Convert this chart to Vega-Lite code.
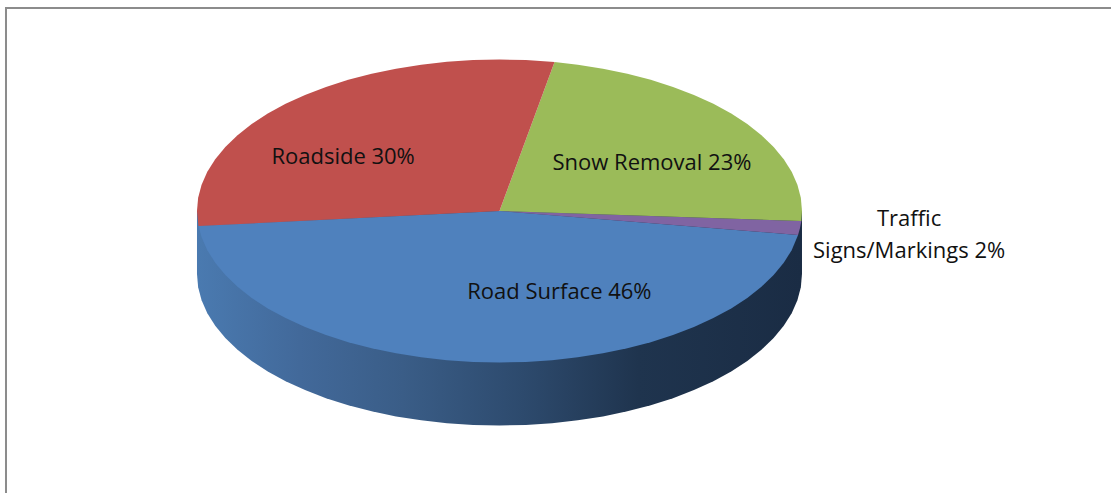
{"$schema":"https://vega.github.io/schema/vega-lite/v6.json","width":1111,"height":493,"padding":0,"autosize":{"type":"fit","contains":"padding"},"background":"white","config":{"view":{"stroke":null}},
"datasets":{
"wall":[{"i":0,"x":-100,"y":0},{"i":1,"x":-100,"y":-41.6},{"i":2,"x":-99.62,"y":-50.32},{"i":3,"x":-98.48,"y":-58.96},{"i":4,"x":-96.59,"y":-67.48},{"i":5,"x":-93.97,"y":-75.8},{"i":6,"x":-90.63,"y":-83.86},{"i":7,"x":-86.6,"y":-91.6},{"i":8,"x":-81.92,"y":-98.96},{"i":9,"x":-76.6,"y":-105.88},{"i":10,"x":-70.71,"y":-112.31},{"i":11,"x":-64.28,"y":-118.2},{"i":12,"x":-57.36,"y":-123.52},{"i":13,"x":-50,"y":-128.2},{"i":14,"x":-42.26,"y":-132.23},{"i":15,"x":-34.2,"y":-135.57},{"i":16,"x":-25.88,"y":-138.19},{"i":17,"x":-17.36,"y":-140.08},{"i":18,"x":-8.72,"y":-141.22},{"i":19,"x":0,"y":-141.6},{"i":20,"x":8.72,"y":-141.22},{"i":21,"x":17.36,"y":-140.08},{"i":22,"x":25.88,"y":-138.19},{"i":23,"x":34.2,"y":-135.57},{"i":24,"x":42.26,"y":-132.23},{"i":25,"x":50,"y":-128.2},{"i":26,"x":57.36,"y":-123.52},{"i":27,"x":64.28,"y":-118.2},{"i":28,"x":70.71,"y":-112.31},{"i":29,"x":76.6,"y":-105.88},{"i":30,"x":81.92,"y":-98.96},{"i":31,"x":86.6,"y":-91.6},{"i":32,"x":90.63,"y":-83.86},{"i":33,"x":93.97,"y":-75.8},{"i":34,"x":96.59,"y":-67.48},{"i":35,"x":98.48,"y":-58.96},{"i":36,"x":99.62,"y":-50.32},{"i":37,"x":100,"y":-41.6},{"i":38,"x":100,"y":0}],
"top":[
{"part":"Road Surface","i":0,"x":0,"y":0},{"part":"Road Surface","i":1,"x":-99.5,"y":-9.9},{"part":"Road Surface","i":2,"x":-98.48,"y":-17.36},{"part":"Road Surface","i":3,"x":-96.59,"y":-25.88},{"part":"Road Surface","i":4,"x":-93.97,"y":-34.2},{"part":"Road Surface","i":5,"x":-90.63,"y":-42.26},{"part":"Road Surface","i":6,"x":-86.6,"y":-50},{"part":"Road Surface","i":7,"x":-81.92,"y":-57.36},{"part":"Road Surface","i":8,"x":-76.6,"y":-64.28},{"part":"Road Surface","i":9,"x":-70.71,"y":-70.71},{"part":"Road Surface","i":10,"x":-64.28,"y":-76.6},{"part":"Road Surface","i":11,"x":-57.36,"y":-81.92},{"part":"Road Surface","i":12,"x":-50,"y":-86.6},{"part":"Road Surface","i":13,"x":-42.26,"y":-90.63},{"part":"Road Surface","i":14,"x":-34.2,"y":-93.97},{"part":"Road Surface","i":15,"x":-25.88,"y":-96.59},{"part":"Road Surface","i":16,"x":-17.36,"y":-98.48},{"part":"Road Surface","i":17,"x":-8.72,"y":-99.62},{"part":"Road Surface","i":18,"x":0,"y":-100},{"part":"Road Surface","i":19,"x":8.72,"y":-99.62},{"part":"Road Surface","i":20,"x":17.36,"y":-98.48},{"part":"Road Surface","i":21,"x":25.88,"y":-96.59},{"part":"Road Surface","i":22,"x":34.2,"y":-93.97},{"part":"Road Surface","i":23,"x":42.26,"y":-90.63},{"part":"Road Surface","i":24,"x":50,"y":-86.6},{"part":"Road Surface","i":25,"x":57.36,"y":-81.92},{"part":"Road Surface","i":26,"x":64.28,"y":-76.6},{"part":"Road Surface","i":27,"x":70.71,"y":-70.71},{"part":"Road Surface","i":28,"x":76.6,"y":-64.28},{"part":"Road Surface","i":29,"x":81.92,"y":-57.36},{"part":"Road Surface","i":30,"x":86.6,"y":-50},{"part":"Road Surface","i":31,"x":90.63,"y":-42.26},{"part":"Road Surface","i":32,"x":93.97,"y":-34.2},{"part":"Road Surface","i":33,"x":96.59,"y":-25.88},{"part":"Road Surface","i":34,"x":98.7,"y":-15.8},
{"part":"Traffic Signs/Markings","i":0,"x":0,"y":0},{"part":"Traffic Signs/Markings","i":1,"x":98.7,"y":-15.8},{"part":"Traffic Signs/Markings","i":2,"x":99.3,"y":-11.5},{"part":"Traffic Signs/Markings","i":3,"x":99.8,"y":-6.6},
{"part":"Snow Removal","i":0,"x":0,"y":0},{"part":"Snow Removal","i":1,"x":99.8,"y":-6.6},{"part":"Snow Removal","i":2,"x":100,"y":0},{"part":"Snow Removal","i":3,"x":99.62,"y":8.72},{"part":"Snow Removal","i":4,"x":98.48,"y":17.36},{"part":"Snow Removal","i":5,"x":96.59,"y":25.88},{"part":"Snow Removal","i":6,"x":93.97,"y":34.2},{"part":"Snow Removal","i":7,"x":90.63,"y":42.26},{"part":"Snow Removal","i":8,"x":86.6,"y":50},{"part":"Snow Removal","i":9,"x":81.92,"y":57.36},{"part":"Snow Removal","i":10,"x":76.6,"y":64.28},{"part":"Snow Removal","i":11,"x":70.71,"y":70.71},{"part":"Snow Removal","i":12,"x":64.28,"y":76.6},{"part":"Snow Removal","i":13,"x":57.36,"y":81.92},{"part":"Snow Removal","i":14,"x":50,"y":86.6},{"part":"Snow Removal","i":15,"x":42.26,"y":90.63},{"part":"Snow Removal","i":16,"x":34.2,"y":93.97},{"part":"Snow Removal","i":17,"x":25.88,"y":96.59},{"part":"Snow Removal","i":18,"x":18.2,"y":98.3},
{"part":"Roadside","i":0,"x":0,"y":0},{"part":"Roadside","i":1,"x":18.2,"y":98.3},{"part":"Roadside","i":2,"x":8.72,"y":99.62},{"part":"Roadside","i":3,"x":0,"y":100},{"part":"Roadside","i":4,"x":-8.72,"y":99.62},{"part":"Roadside","i":5,"x":-17.36,"y":98.48},{"part":"Roadside","i":6,"x":-25.88,"y":96.59},{"part":"Roadside","i":7,"x":-34.2,"y":93.97},{"part":"Roadside","i":8,"x":-42.26,"y":90.63},{"part":"Roadside","i":9,"x":-50,"y":86.6},{"part":"Roadside","i":10,"x":-57.36,"y":81.92},{"part":"Roadside","i":11,"x":-64.28,"y":76.6},{"part":"Roadside","i":12,"x":-70.71,"y":70.71},{"part":"Roadside","i":13,"x":-76.6,"y":64.28},{"part":"Roadside","i":14,"x":-81.92,"y":57.36},{"part":"Roadside","i":15,"x":-86.6,"y":50},{"part":"Roadside","i":16,"x":-90.63,"y":42.26},{"part":"Roadside","i":17,"x":-93.97,"y":34.2},{"part":"Roadside","i":18,"x":-96.59,"y":25.88},{"part":"Roadside","i":19,"x":-98.48,"y":17.36},{"part":"Roadside","i":20,"x":-99.62,"y":8.72},{"part":"Roadside","i":21,"x":-100,"y":0},{"part":"Roadside","i":22,"x":-99.5,"y":-9.9}],
"labels":[{"label":"Road Surface 46%","share":46,"x":19.8,"y":-53.4},{"label":"Roadside 30%","share":30,"x":-51.7,"y":35.8},{"label":"Snow Removal 23%","share":23,"x":50.4,"y":31.8},{"label":"Traffic\nSigns/Markings 2%","share":2,"x":135.4,"y":-5.1}],
"frame":[{"i":0,"x":-163.14,"y":-186.14},{"i":1,"x":-163.14,"y":134},{"i":2,"x":202.15,"y":134}]
},
"encoding":{
"x":{"field":"x","type":"quantitative","scale":{"domain":[-165.12,202.15],"nice":false,"zero":false},"axis":null},
"y":{"field":"y","type":"quantitative","scale":{"domain":[-186.14,139.27],"nice":false,"zero":false},"axis":null}
},
"layer":[
{"data":{"name":"frame"},"mark":{"type":"line","stroke":"#8c8c8c","strokeWidth":2,"clip":true},"encoding":{"order":{"field":"i","type":"quantitative"}}},
{"data":{"name":"wall"},"mark":{"type":"line","interpolate":"linear-closed","strokeWidth":0,"fill":{"gradient":"linear","x1":0,"y1":0,"x2":1,"y2":0,"stops":[{"offset":0,"color":"#4a7ab0"},{"offset":0.17,"color":"#42699a"},{"offset":0.34,"color":"#3a5d87"},{"offset":0.54,"color":"#2d4a6d"},{"offset":0.73,"color":"#1f344e"},{"offset":1,"color":"#1a2c44"}]}},"encoding":{"order":{"field":"i","type":"quantitative"}}},
{"data":{"name":"top"},"mark":{"type":"line","interpolate":"linear-closed","strokeWidth":0},"encoding":{"order":{"field":"i","type":"quantitative"},"fill":{"field":"part","type":"nominal","legend":null,"scale":{"domain":["Road Surface","Roadside","Snow Removal","Traffic Signs/Markings"],"range":["#4f81bd","#c0504d","#9bbb59","#8064a2"]}}}},
{"data":{"name":"labels"},"mark":{"type":"text","font":"Open Sans","fontSize":22,"align":"center","baseline":"middle","lineBreak":"\n","lineHeight":32,"color":"#111111"},"encoding":{"text":{"field":"label","type":"nominal"}}}
]}
